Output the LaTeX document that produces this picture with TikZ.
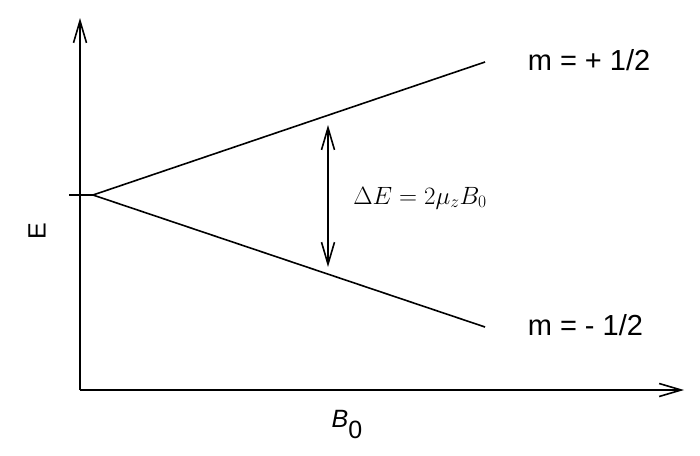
\RequirePackage{fix-cm}
\documentclass[tikz,border=0pt]{standalone}
\usepackage{fontspec}
\setmainfont{Liberation Sans}
\usetikzlibrary{arrows.meta}
\tikzset{>={Straight Barb[length=22pt,width=13pt]}}

\begin{document}
\begin{tikzpicture}[x=1pt,y=-1pt,line width=1.6pt]
 \useasboundingbox (0,0) rectangle (700,455);
 % Draw axes
    \coordinate (O) at (80,390);
    \coordinate (Etop) at (80,18);
    \coordinate (Bend) at (684,390);
    \draw[->] (O) -- (Etop);
    \draw[->] (O) -- (Bend);
    \node[rotate=90,inner sep=0,font=\fontsize{25}{30}\selectfont] (Elabel) at (37,231) {E};
    \node[inner sep=0,font=\fontsize{25}{30}\selectfont] (Blabel) at (347,425) {\textit{B}\raisebox{-11pt}{0}};

  % zero field level, then the two levels
    \coordinate (tick) at (69,195);
    \coordinate (split) at (93,195);
    \coordinate (up) at (485,62);
    \coordinate (down) at (485,327);
    \draw (tick) -- (split);
    \draw (split) -- (up);
    \draw (split) -- (down);

  \node[anchor=west,inner sep=0,font=\fontsize{29}{34}\selectfont] (mup) at (527,60) {m = + 1/2};
  \node[anchor=west,inner sep=0,font=\fontsize{29}{34}\selectfont] (mdown) at (527,325) {m = - 1/2};

  % DRAW ENERGY GAP
    \coordinate (gaptop) at (328,125);
    \coordinate (gapbot) at (328,267);
    \draw[<->] (gaptop) -- (gapbot);
    \node[font=\fontsize{25}{30}\selectfont] (gap) at (420,198) {$\Delta E = 2\mu_z B_0$};
\end{tikzpicture}
\end{document}
